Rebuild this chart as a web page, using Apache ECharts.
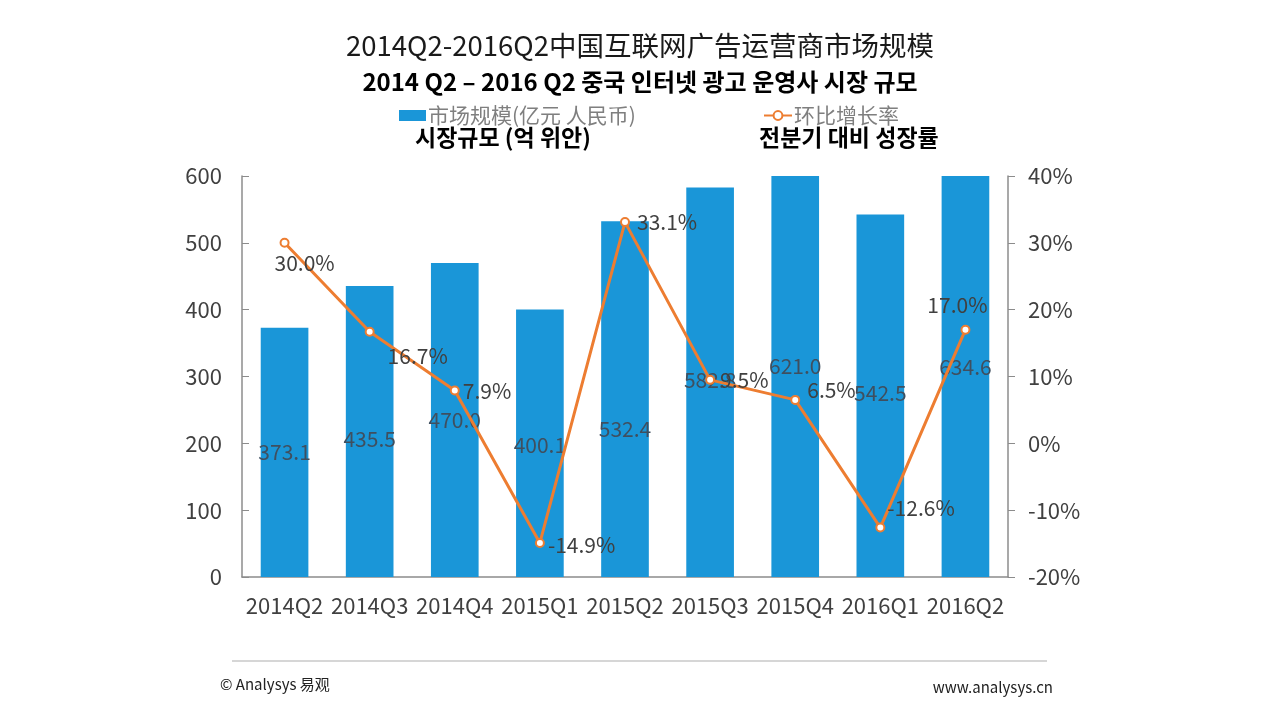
<!DOCTYPE html>
<html>
<head>
<meta charset="utf-8">
<script src="https://cdn.jsdelivr.net/npm/echarts@6/dist/echarts.min.js"></script>
<style>
html,body{margin:0;padding:0;background:#fff;}
#c{width:1280px;height:721px;}
</style>
</head>
<body>
<div id="c"></div>
<script>
const categories = ['2014Q2','2014Q3','2014Q4','2015Q1','2015Q2','2015Q3','2015Q4','2016Q1','2016Q2'];
const marketSize = [373.1, 435.5, 470.0, 400.1, 532.4, 582.8, 621.0, 542.5, 634.6];
const growthRate = [30.0, 16.7, 7.9, -14.9, 33.1, 9.5, 6.5, -12.6, 17.0];
const leftTicks = [0, 100, 600];
const rightTicks = [-20, 10, 40];

const FONT = '"Noto Sans CJK SC", "Noto Sans", sans-serif';
const KFONT = '"Noto Sans CJK KR", "Noto Sans", sans-serif';

// label placement styles (separate from data)
const barLabelOffsets = [[0,0],[0,8],[0,0],[0,2],[0,30],[0,-2],[0,-10],[0,-3],[0,-9]];
const lineLabelStyles = [
  {position:'bottom', offset:[20,0]},
  {position:'bottom', offset:[48,4]},
  {position:'right', offset:[-2,0]},
  {position:'right', offset:[-2,2]},
  {position:'right', offset:[2,0]},
  {position:'right', offset:[0,0]},
  {position:'right', offset:[2,-10]},
  {position:'right', offset:[-3,-20]},
  {position:'top', offset:[-8,-4]}
];

const chart = echarts.init(document.getElementById('c'));
const axisColor = '#8c8c8c';
const textColor = '#404040';

chart.setOption({
  backgroundColor: '#fff',
  animation: false,
  title: [
    {text: '2014Q2-2016Q2中国互联网广告运营商市场规模', left: 'center', top: 27,
     textStyle: {fontFamily: FONT, fontSize: 27.5, fontWeight: 'normal', color: '#1a1a1a'}},
    {text: '2014 Q2 – 2016 Q2 중국 인터넷 광고 운영사 시장 규모', left: 'center', top: 65,
     textStyle: {fontFamily: KFONT, fontSize: 24, fontWeight: 'bold', color: '#000'}},
    {text: '시장규모 (억 위안)', left: 410, top: 121,
     textStyle: {fontFamily: KFONT, fontSize: 23, fontWeight: 'bold', color: '#000'}},
    {text: '전분기 대비 성장률', left: 754, top: 121,
     textStyle: {fontFamily: KFONT, fontSize: 23, fontWeight: 'bold', color: '#000'}},
    {text: '© Analysys 易观', left: 215, top: 672,
     textStyle: {fontFamily: FONT, fontSize: 15, fontWeight: 'normal', color: '#222'}},
    {text: 'www.analysys.cn', right: 222, top: 675,
     textStyle: {fontFamily: FONT, fontSize: 15, fontWeight: 'normal', color: '#222'}}
  ],
  legend: [
    {data: [{name: '市场规模(亿元 人民币)', icon: 'rect'}], left: 394, top: 100,
     itemWidth: 27, itemHeight: 11, itemGap: 4,
     textStyle: {fontFamily: FONT, fontSize: 21, color: '#7f7f7f', padding: [0,0,0,-3]}},
    {data: ['环比增长率'], left: 758, top: 100, itemWidth: 28, itemHeight: 11,
     textStyle: {fontFamily: FONT, fontSize: 21, color: '#7f7f7f', padding: [0,0,0,-3]}}
  ],
  graphic: [
    {type: 'line', shape: {x1: 232, y1: 661, x2: 1047, y2: 661},
     style: {stroke: '#c8c8c8', lineWidth: 1.5}}
  ],
  grid: {left: 242, right: 272, top: 176, bottom: 144, containLabel: false},
  xAxis: {
    type: 'category', data: categories,
    axisLine: {lineStyle: {color: axisColor, width: 1.5}},
    axisTick: {show: false},
    axisLabel: {interval: 0, fontFamily: FONT, fontSize: 22, color: textColor, margin: 18}
  },
  yAxis: [
    {type: 'value', min: leftTicks[0], max: leftTicks[2], interval: leftTicks[1],
     axisLine: {show: true, lineStyle: {color: axisColor, width: 1.5}},
     axisTick: {show: true, inside: true, length: 7, lineStyle: {color: axisColor}},
     splitLine: {show: false},
     axisLabel: {fontFamily: FONT, fontSize: 22, color: textColor, margin: 20}},
    {type: 'value', min: rightTicks[0], max: rightTicks[2], interval: rightTicks[1],
     axisLine: {show: true, lineStyle: {color: axisColor, width: 1.5}},
     axisTick: {show: true, length: 7, lineStyle: {color: axisColor}},
     splitLine: {show: false},
     axisLabel: {fontFamily: FONT, fontSize: 22, color: textColor, margin: 20,
       formatter: v => v + '%'}}
  ],
  series: [
    {name: '市场规模(亿元 人民币)', type: 'bar', yAxisIndex: 0,
     data: marketSize.map((v, i) => ({value: v, label: {offset: barLabelOffsets[i]}})),
     barWidth: '56%', clip: true,
     itemStyle: {color: '#1a96d8'},
     label: {show: true, position: 'inside', fontFamily: FONT, fontSize: 21,
       color: '#3f4f5f', formatter: p => p.value.toFixed(1)}},
    {name: '环比增长率', type: 'line', yAxisIndex: 1,
     data: growthRate.map((v, i) => ({value: v, label: lineLabelStyles[i]})),
     lineStyle: {color: '#ed7d31', width: 3},
     itemStyle: {color: '#fff', borderColor: '#ed7d31', borderWidth: 2},
     symbol: 'circle', symbolSize: 8, showAllSymbol: true,
     label: {show: true, fontFamily: FONT, fontSize: 21, color: textColor,
       formatter: p => p.value.toFixed(1) + '%'}}
  ]
});
</script>
</body>
</html>
